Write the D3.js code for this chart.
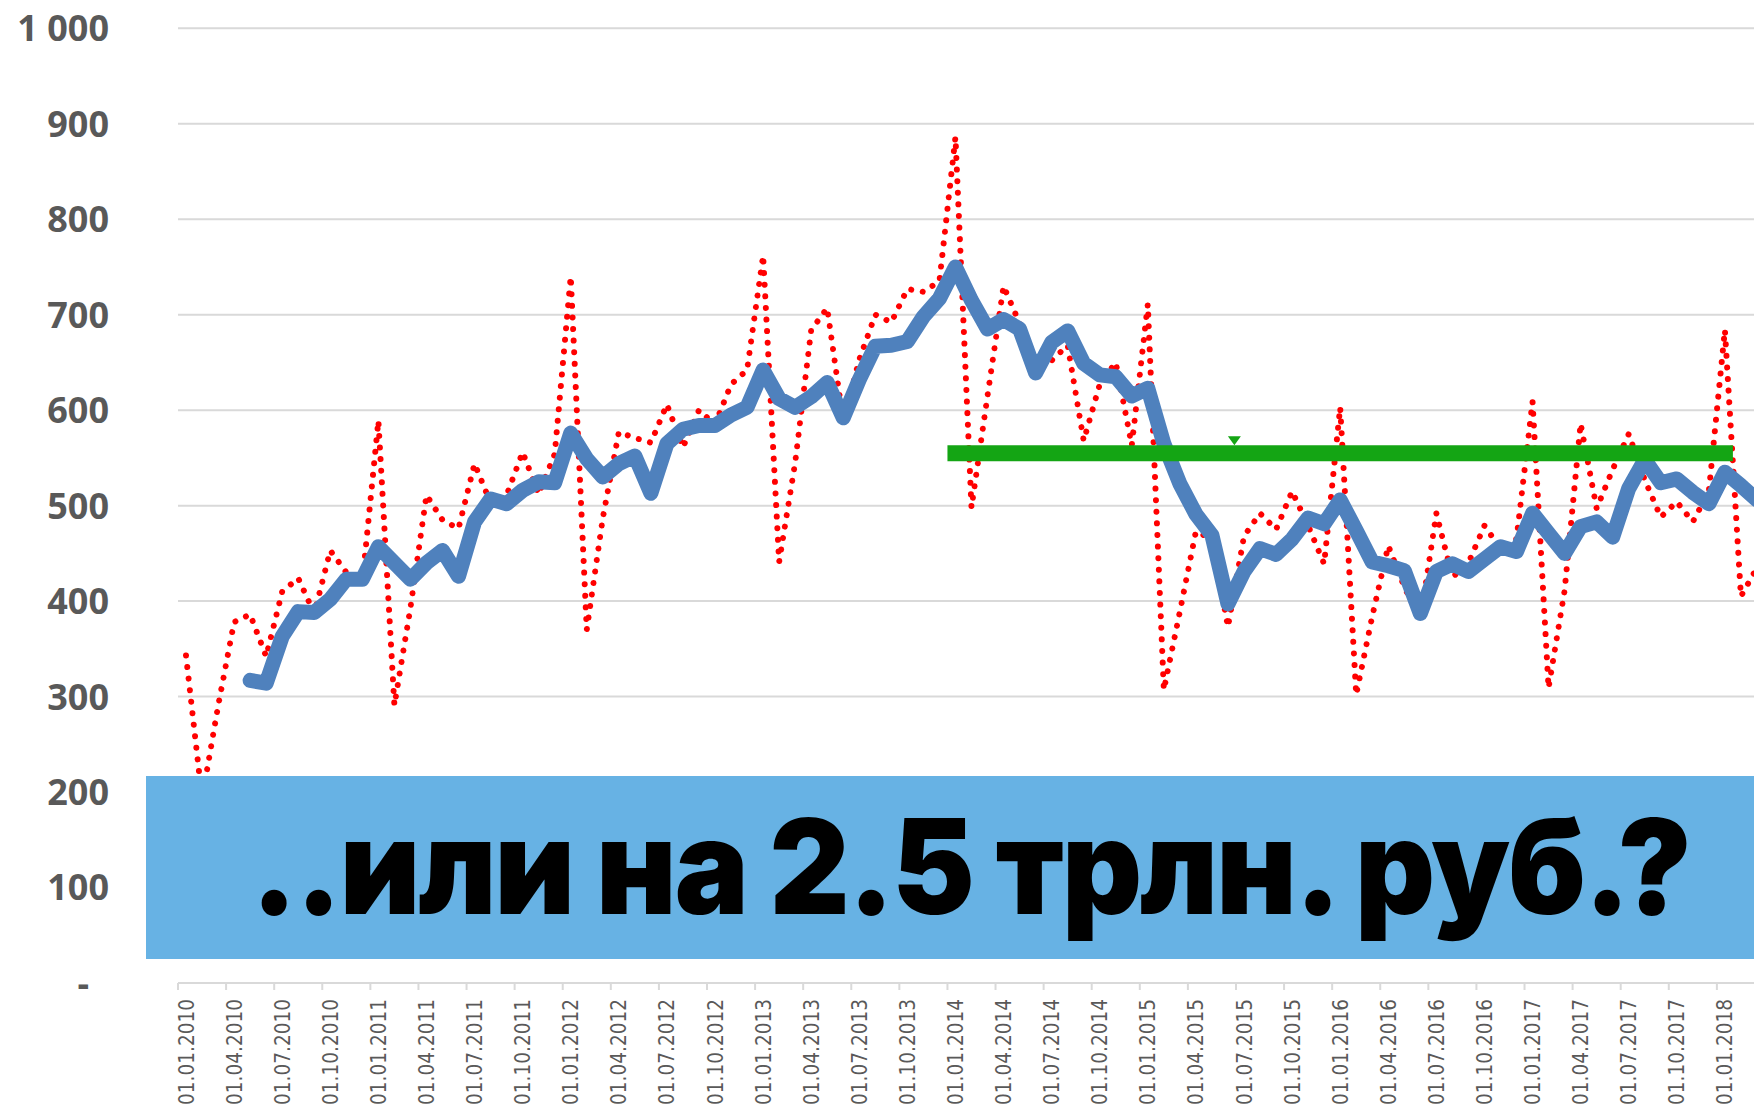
<!DOCTYPE html>
<html>
<head>
<meta charset="utf-8">
<script src="https://cdnjs.cloudflare.com/ajax/libs/d3/7.8.5/d3.min.js"></script>
<style>
  html, body { margin: 0; padding: 0; background: #fff; }
  svg { display: block; }
</style>
</head>
<body>
<div id="chart"></div>
<script>
// Monthly values, Jan 2010 .. Mar 2018 (red dotted line)
const monthly = [
  343, 193, 290, 378, 386, 342, 410, 424, 387, 453, 430, 420,
  589, 291, 393, 511, 485, 476, 544, 503, 511, 556, 512, 554,
  740, 370, 487, 577, 571, 566, 606, 561, 600, 585, 627, 642,
  762, 441, 545, 684, 707, 588, 653, 700, 692, 727, 724, 735,
  886, 498, 615, 730, 691, 650, 652, 668, 568, 627, 650, 563,
  711, 307, 389, 473, 465, 373, 468, 492, 475, 515, 479, 439,
  603, 302, 384, 458, 415, 380, 492, 425, 440, 479, 455, 465,
  609, 309, 411, 586, 497, 538, 575, 527, 488, 504, 483, 515,
  684, 405, 435
];

// Smoothed line (thick blue), starts in May 2010
const smoothed = [
  null, null, null, null, 317, 314, 363, 389, 388, 402, 423, 423,
  457, 440, 423, 440, 453, 426, 483, 507, 502, 516, 525, 524,
  576, 549, 530, 544, 552, 513, 565, 580, 584, 584, 595, 603,
  642, 612, 603, 614, 629, 592, 632, 667, 668, 672, 698, 717,
  750, 715, 685, 695, 685, 639, 671, 683, 649, 637, 635, 615,
  623, 565, 523, 491, 469, 397, 431, 455, 449, 465, 487, 481,
  506, 474, 441, 437, 432, 387, 431, 439, 431, 444, 457, 452,
  492, 471, 450, 478, 483, 467, 518, 548, 524, 528, 514, 502,
  535, 521, 506
];

// Green level line: Jan 2014 .. Jan 2018
const levelMonths = [48, 96];
const levelValues = [555, 555];
const markerPoint = [65.4, 568];

const yTicks = [0, 100, 200, 300, 400, 500, 600, 700, 800, 900, 1000];
const tickLabels = [
  "01.01.2010", "01.04.2010", "01.07.2010", "01.10.2010",
  "01.01.2011", "01.04.2011", "01.07.2011", "01.10.2011",
  "01.01.2012", "01.04.2012", "01.07.2012", "01.10.2012",
  "01.01.2013", "01.04.2013", "01.07.2013", "01.10.2013",
  "01.01.2014", "01.04.2014", "01.07.2014", "01.10.2014",
  "01.01.2015", "01.04.2015", "01.07.2015", "01.10.2015",
  "01.01.2016", "01.04.2016", "01.07.2016", "01.10.2016",
  "01.01.2017", "01.04.2017", "01.07.2017", "01.10.2017",
  "01.01.2018"
];
const bannerText = "..или на 2.5 трлн. руб.?";

// Layout
const W = 1754, H = 1110;
const plotLeft = 178, monthW = 16.03;
const grey = "#595959", gridColor = "#d9d9d9";

const svg = d3.select("#chart").append("svg")
  .attr("width", W)
  .attr("height", H)
  .style("background", "#fff");

// Scales: month index -> x (category centre at i + 0.5)
const x = d3.scaleLinear()
  .domain([0, monthly.length])
  .range([plotLeft, plotLeft + monthly.length * monthW]);
const y = d3.scaleLinear().domain([0, 1000]).range([983, 28.3]);

// Gridlines
svg.append("g")
  .selectAll("line")
  .data(yTicks.filter(d => d > 0))
  .join("line")
  .attr("x1", plotLeft).attr("x2", W)
  .attr("y1", d => y(d)).attr("y2", d => y(d))
  .attr("stroke", gridColor)
  .attr("stroke-width", 2);

// Y labels
const fmt = d3.formatLocale({ decimal: ",", thousands: " ", grouping: [3], currency: ["", ""] }).format(",");
svg.append("g")
  .selectAll("text")
  .data(yTicks)
  .join("text")
  .attr("x", d => d === 0 ? 89 : 109)
  .attr("y", d => y(d))
  .attr("dy", "0.36em")
  .attr("text-anchor", "end")
  .style("font-family", "'Open Sans', 'Liberation Sans', sans-serif")
  .style("font-weight", 700)
  .style("font-size", "36px")
  .style("fill", grey)
  .text(d => d === 0 ? "-" : fmt(d));

// X axis line and ticks every 3 months
const tickIdx = tickLabels.map((d, i) => i * 3);
svg.append("line")
  .attr("x1", plotLeft).attr("x2", W)
  .attr("y1", y(0)).attr("y2", y(0))
  .attr("stroke", gridColor)
  .attr("stroke-width", 2);

svg.append("g")
  .selectAll("line")
  .data(tickIdx)
  .join("line")
  .attr("x1", d => x(d)).attr("x2", d => x(d))
  .attr("y1", y(0)).attr("y2", y(0) + 7)
  .attr("stroke", gridColor)
  .attr("stroke-width", 2);

svg.append("g")
  .selectAll("text")
  .data(tickLabels)
  .join("text")
  .attr("transform", (d, i) => `translate(${x(tickIdx[i] + 0.5)},${y(0) + 16}) rotate(-90)`)
  .attr("text-anchor", "end")
  .attr("dy", "0.36em")
  .attr("textLength", 106)
  .attr("lengthAdjust", "spacingAndGlyphs")
  .style("font-family", "'DejaVu Sans', sans-serif")
  .style("font-size", "21px")
  .style("fill", grey)
  .text(d => d);

// Red dotted monthly line
const line = d3.line()
  .defined(d => d != null)
  .x((d, i) => x(i + 0.5))
  .y(d => y(d));

svg.append("path")
  .datum(monthly)
  .attr("d", line)
  .attr("fill", "none")
  .attr("stroke", "#ff0000")
  .attr("stroke-width", 6)
  .attr("stroke-linecap", "round")
  .attr("stroke-linejoin", "round")
  .attr("stroke-dasharray", "0.01 11.6");

// Blue thick smoothed line
svg.append("path")
  .datum(smoothed)
  .attr("d", line)
  .attr("fill", "none")
  .attr("stroke", "#4f81bd")
  .attr("stroke-width", 15)
  .attr("stroke-linecap", "round")
  .attr("stroke-linejoin", "round");

// Green level line
svg.append("path")
  .datum(levelMonths.map((m, i) => [m, levelValues[i]]))
  .attr("d", d3.line().x(d => x(d[0] + 0.5)).y(d => y(d[1])))
  .attr("fill", "none")
  .attr("stroke", "#14a514")
  .attr("stroke-width", 16)
  .attr("stroke-linecap", "square");

// Small green down-triangle marker
svg.append("path")
  .attr("transform", `translate(${x(markerPoint[0] + 0.5)},${y(markerPoint[1])})`)
  .attr("d", "M-6.5,-4.5 L6.5,-4.5 L0,4.5 Z")
  .attr("fill", "#14a514");

// Banner
svg.append("rect")
  .attr("x", 146).attr("y", 776)
  .attr("width", W - 146).attr("height", 183)
  .attr("fill", "#67b2e4");

const banner = svg.append("text")
  .attr("x", 251)
  .attr("y", 914)
  .style("font-family", "Inter, 'Lato', 'DejaVu Sans', sans-serif")
  .style("font-weight", 900)
  .style("font-size", "132px")
  .style("letter-spacing", "-2px")
  .style("fill", "#000")
  .text(bannerText);

const targetLen = 1439;
const len = banner.node().getComputedTextLength();
if (Math.abs(len - targetLen) > 6) {
  banner.attr("textLength", targetLen).attr("lengthAdjust", "spacingAndGlyphs");
}
</script>
</body>
</html>
